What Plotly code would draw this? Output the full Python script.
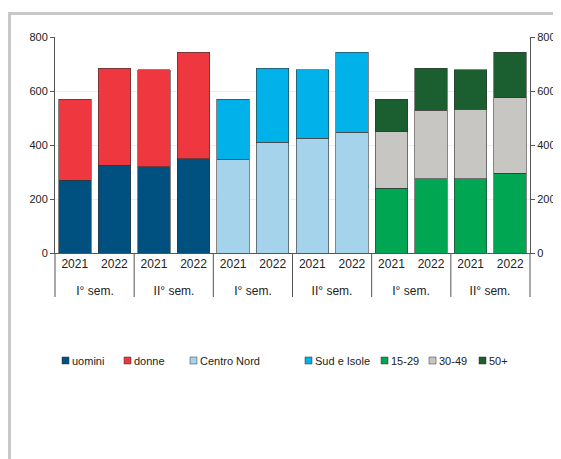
import plotly.graph_objects as go

years = ["2021", "2022", "2021", "2022"] * 3
sems = ["I° sem.", "II° sem."] * 3

uomini = [270, 325, 320, 350]
donne = [300, 360, 358, 393]
centro_nord = [345, 410, 425, 448]
sud_isole = [225, 275, 253, 295]
eta_15_29 = [240, 275, 275, 295]
eta_30_49 = [210, 253, 258, 280]
eta_50 = [120, 157, 145, 168]

# page has an 8px body margin, so the figure starts at (8, 8)
W, H = 547, 451
L, R, T, B = 47, 25, 29, 206
pw, ph = W - L - R, H - T - B
X0, Y0 = 55, 253  # plot origin in screen px


def px(x):
    return (x - X0) / pw


def py(y):
    return (Y0 - y) / ph


fig = go.Figure()
groups = [
    ([0, 1, 2, 3], [("uomini", uomini, "#00517f"), ("donne", donne, "#ef3740")]),
    ([4, 5, 6, 7], [("Centro Nord", centro_nord, "#a6d3ec"), ("Sud e Isole", sud_isole, "#00b1ea")]),
    ([8, 9, 10, 11], [("15-29", eta_15_29, "#00a651"), ("30-49", eta_30_49, "#c8c6c3"), ("50+", eta_50, "#1b5e30")]),
]
for xs, series in groups:
    for name, vals, col in series:
        fig.add_trace(go.Bar(x=xs, y=vals, name=name, marker_color=col, showlegend=False,
                             marker_line=dict(color="#333", width=0.6), width=0.82))
fig.add_trace(go.Scatter(x=[0], y=[0], yaxis="y2", mode="markers",
                         marker_opacity=0, showlegend=False, hoverinfo="skip"))

shapes = []
for k in range(7):
    xp = (k * 2) / 12
    shapes.append(dict(type="line", xref="paper", yref="paper", x0=xp, x1=xp,
                       y0=0, y1=py(297), line=dict(color="#555", width=1)))
shapes.append(dict(type="rect", xref="paper", yref="paper", layer="below",
                   x0=px(9.5), x1=px(559), y0=py(480), y1=py(13.5),
                   line=dict(color="#c8c8c8", width=3)))
anns = []
for k, s in enumerate(sems):
    anns.append(dict(x=(2 * k + 1) / 12, y=py(291), xref="paper", yref="paper",
                     text=s, showarrow=False, font=dict(size=12),
                     xanchor="center", yanchor="middle", width=70, height=16))

# hand-placed legend so it stays on one row as in the reference
legend_x = [66, 128, 194, 309, 385, 433, 483]
items = [s for _, ser in groups for s in ser]
for lx, (name, _, col) in zip(legend_x, items):
    shapes.append(dict(type="rect", xref="paper", yref="paper",
                       x0=px(lx - 4), x1=px(lx + 3), y0=py(364), y1=py(357),
                       fillcolor=col, line=dict(color="#333", width=0.5)))
    anns.append(dict(x=px(lx + 4), y=py(360.5), xref="paper", yref="paper", text=name,
                     xanchor="left", yanchor="middle", align="left", width=80, height=15,
                     showarrow=False, font=dict(size=11)))

fig.update_layout(
    width=W, height=H, barmode="stack", plot_bgcolor="white", paper_bgcolor="white",
    margin=dict(l=L, r=R, t=T, b=B, autoexpand=False),
    font=dict(family="Liberation Sans, Arial", size=12, color="#222"),
    xaxis=dict(tickvals=list(range(12)), ticktext=years, range=[-0.5, 11.5],
               showline=True, linecolor="#555", ticks="", showgrid=False),
    yaxis=dict(range=[0, 800], dtick=200, showgrid=True, gridcolor="#eeeeee",
               showline=True, linecolor="#555", zeroline=False,
               ticks="outside", ticklen=4, tickcolor="#555", tickfont=dict(size=11)),
    yaxis2=dict(range=[0, 800], dtick=200, overlaying="y", side="right", showgrid=False,
                showline=True, linecolor="#555", ticks="outside", ticklen=4,
                tickcolor="#555", tickfont=dict(size=11)),
    shapes=shapes, annotations=anns,
)
fig.write_html("out.html")
